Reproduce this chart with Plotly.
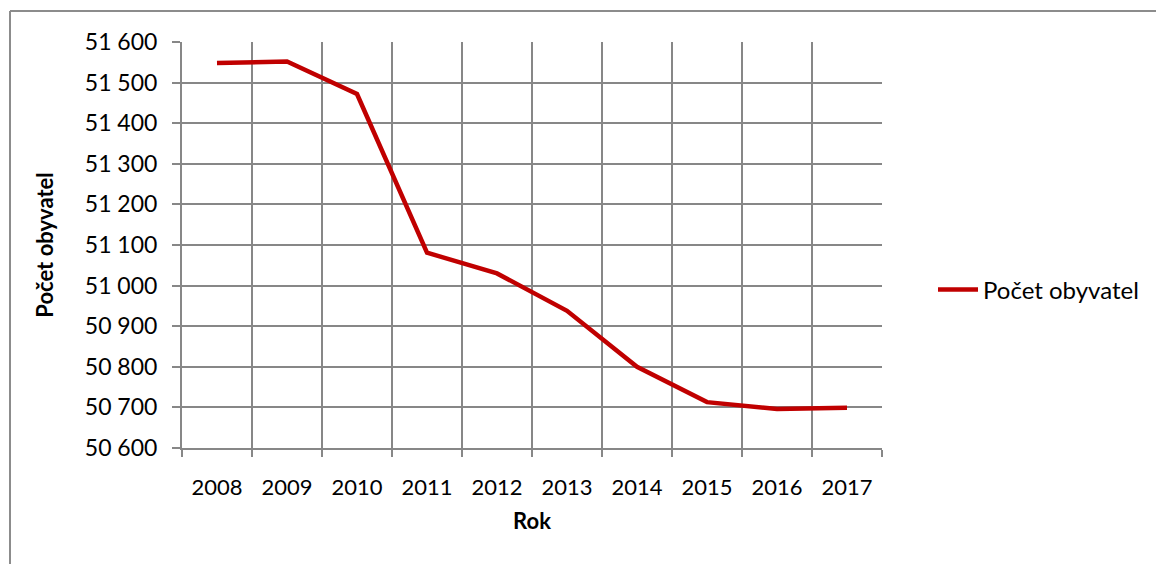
import plotly.graph_objects as go

years = ["2008", "2009", "2010", "2011", "2012", "2013", "2014", "2015", "2016", "2017"]
population = [51548, 51552, 51472, 51081, 51030, 50938, 50800, 50713, 50696, 50699]
series_name = "Počet obyvatel"
y_ticks = [50600, 50700, 50800, 50900, 51000, 51100, 51200, 51300, 51400, 51500, 51600]

W, H = 1156, 564
L, R, T, B = 182, 882, 42, 448

FONT = "Lato"
GRID = "#878787"

fig = go.Figure()
fig.add_trace(go.Scatter(
    x=years, y=population, mode="lines", name=series_name,
    line=dict(color="#C00000", width=4.5),
))

def px_x(p):
    return (p - L) / (R - L)

def px_y(p):
    return (B - p) / (B - T)

fig.update_layout(
    width=W, height=H,
    margin=dict(l=L, r=W - R, t=T, b=H - B, pad=0),
    paper_bgcolor="white", plot_bgcolor="white",
    separators=", ",
    font=dict(family=FONT, size=22, color="#000000"),
    showlegend=True,
    legend=dict(
        x=px_x(933), y=px_y(290), xanchor="left", yanchor="middle",
        font=dict(family=FONT, size=24, color="#000000"),
        bgcolor="rgba(0,0,0,0)", itemwidth=40,
    ),
    xaxis=dict(
        type="category", range=[-0.5, 9.5],
        tickson="boundaries", ticks="outside", ticklen=7, tickwidth=2, tickcolor=GRID,
        showgrid=True, gridcolor=GRID, gridwidth=2,
        showline=True, linecolor=GRID, linewidth=2, mirror=False,
        tickfont=dict(family=FONT, size=22),
        ticklabelstandoff=19,
        title=dict(text="<b>Rok</b>", font=dict(family=FONT, size=22), standoff=14),
        zeroline=False,
    ),
    yaxis=dict(
        range=[50600, 51600], tickvals=y_ticks, tickformat=",d",
        ticks="outside", ticklen=8, tickwidth=2, tickcolor=GRID,
        showgrid=True, gridcolor=GRID, gridwidth=2,
        showline=True, linecolor=GRID, linewidth=2,
        tickfont=dict(family=FONT, size=23),
        ticklabelstandoff=10,
        title=dict(text="<b>Počet obyvatel</b>", font=dict(family=FONT, size=22), standoff=25),
        zeroline=False,
    ),
    shapes=[
        dict(type="line", xref="paper", yref="paper",
             x0=px_x(10), x1=px_x(1156), y0=px_y(11), y1=px_y(11),
             line=dict(color="#8c8c8c", width=2)),
        dict(type="line", xref="paper", yref="paper",
             x0=px_x(10), x1=px_x(10), y0=px_y(11), y1=px_y(564),
             line=dict(color="#8c8c8c", width=2)),
    ],
)

fig.write_html("out.html")
